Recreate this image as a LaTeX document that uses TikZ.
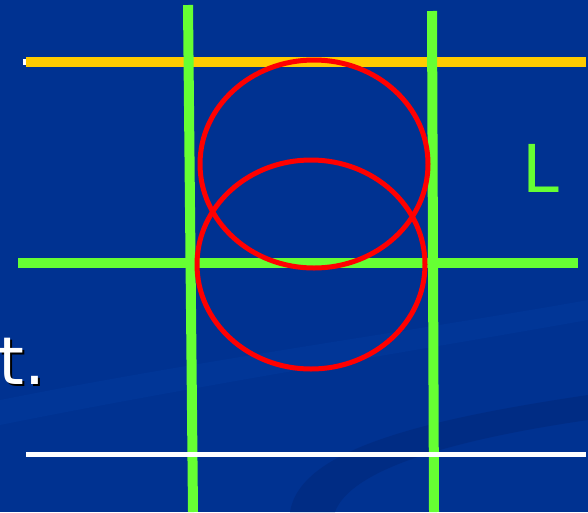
\documentclass[tikz,border=0pt]{standalone}
\usepackage{fontspec}
\setmainfont{DejaVu Sans}
\definecolor{bg}{RGB}{0,50,145}
\definecolor{bgdark}{RGB}{0,44,132}
\definecolor{bglight}{RGB}{1,54,151}
\definecolor{grn}{RGB}{102,255,51}
\definecolor{ylw}{RGB}{255,204,0}
\definecolor{rd}{RGB}{255,0,0}
\tikzset{
  gline/.style={draw=grn,line width=10pt},
  yline/.style={draw=ylw,line width=10pt},
  wline/.style={draw=white,line width=5pt},
  rcirc/.style={draw=rd,line width=5pt},
  lbl/.style={inner sep=0pt,font=\fontsize{66}{66}\selectfont}
}
\begin{document}
\begin{tikzpicture}[x=1pt,y=-1pt]
\useasboundingbox (0,0) rectangle (588,512);
\fill[bg] (0,0) rectangle (588,512);
% subtle swooshes
\fill[bglight] (0,400) .. controls (200,360) and (420,330) .. (588,300) -- (588,320) .. controls (420,350) and (200,385) .. (0,425) -- cycle;
\fill[bgdark] (290,512) .. controls (300,450) and (420,420) .. (588,395) -- (588,420) .. controls (450,440) and (350,470) .. (335,512) -- cycle;
% lines
\coordinate (yl1) at (26,62); \coordinate (yl2) at (586,62);
\coordinate (gv1a) at (188,5); \coordinate (gv1b) at (193,512);
\coordinate (gv2a) at (432,11); \coordinate (gv2b) at (434,512);
\coordinate (gh1) at (18,262.5); \coordinate (gh2) at (578,262.5);
\coordinate (wl1) at (26,454.5); \coordinate (wl2) at (586,454.5);
\fill[white] (23,59) rectangle (27,65);
\draw[yline] (yl1) -- (yl2);
\draw[gline] (gv1a) -- (gv1b);
\draw[gline] (gv2a) -- (gv2b);
\draw[gline] (gh1) -- (gh2);
\draw[wline] (wl1) -- (wl2);
% circles
\coordinate (c1) at (314,164);
\coordinate (c2) at (311,264.5);
\draw[rcirc] (c1) ellipse [x radius=114, y radius=104];
\draw[rcirc] (c2) ellipse [x radius=114, y radius=104.5];
% labels
\node[lbl,text=grn,anchor=base west,font=\fontsize{66}{66}\selectfont] (L) at (522,192) {L};
\node[lbl,text=white,anchor=base west] (t) at (-2,384) {\makebox[0pt][l]{\hspace{2.5pt}\raisebox{-2.5pt}{\color{black}t.}}t.};
\end{tikzpicture}
\end{document}
